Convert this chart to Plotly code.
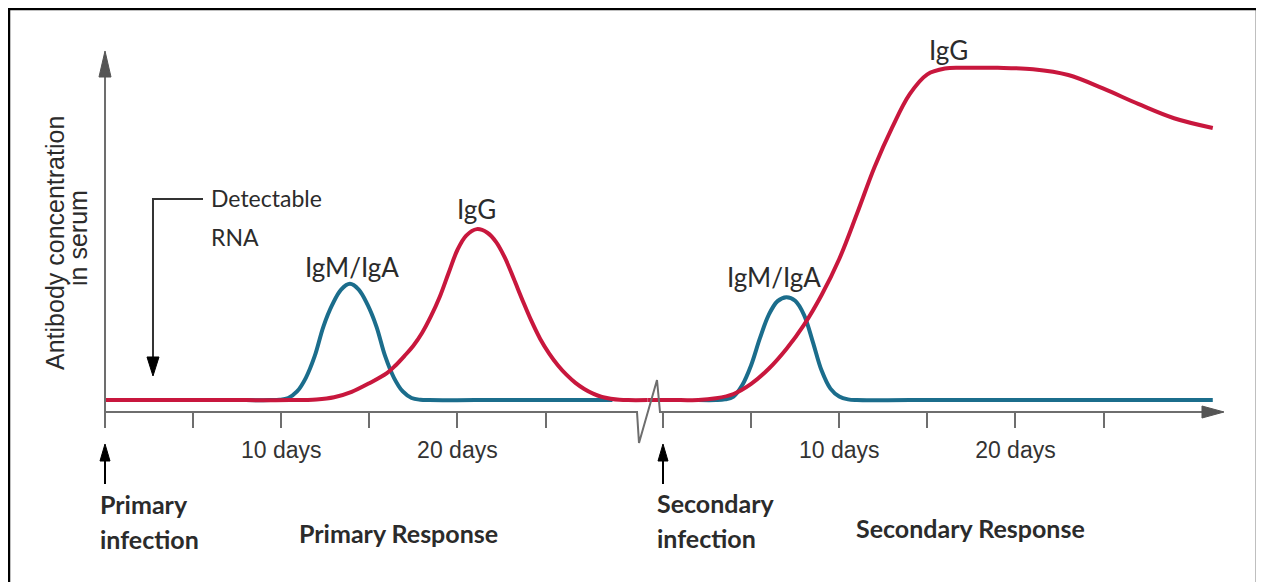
import plotly.graph_objects as go

# The page places the figure 8px from the top-left corner of the window.
OFF = 8
FW, FH = 1252, 574

# ---------------- data ----------------
# x: days after the infection, y: antibody level (arbitrary units, 0-100)
primary_igm_days  = [0, 4.0, 8.0, 9.4, 9.9, 10.4, 10.9, 11.4, 11.9, 12.4, 12.9, 13.4, 13.9, 14.4, 14.9,
                     15.4, 15.9, 16.4, 16.9, 17.4, 17.9, 18.4, 21.0, 25.0, 28.8]
primary_igm_level = [3.3, 3.3, 3.3, 3.3, 3.4, 3.9, 5.7, 9.5, 15.5, 23.8, 29.8, 34.0, 35.6, 34.0, 29.8,
                     23.8, 15.5, 9.5, 5.7, 3.9, 3.4, 3.3, 3.3, 3.3, 3.3]

primary_igg_days  = [0, 4.0, 8.0, 10.5, 12.0, 13.0, 14.0, 15.0, 16.0, 16.5, 17.0, 17.5, 18.0, 18.5, 19.0,
                     19.5, 20.0, 20.5, 21.1, 21.7, 22.2, 22.7, 23.2, 23.7, 24.2, 24.7, 25.2, 25.7, 26.2,
                     26.7, 27.2, 27.7, 28.2, 28.7, 29.2, 29.7, 30.8]
primary_igg_level = [3.3, 3.3, 3.3, 3.3, 3.5, 4.1, 5.6, 8.0, 10.8, 13.0, 15.6, 18.4, 22.0, 26.6, 32.0,
                     38.6, 45.0, 49.0, 50.8, 49.8, 47.2, 42.8, 37.0, 31.0, 25.3, 20.3, 16.3, 13.0, 10.3,
                     8.1, 6.4, 5.1, 4.2, 3.7, 3.4, 3.3, 3.3]

secondary_igm_days  = [2.0, 3.0, 3.5, 4.0, 4.5, 5.0, 5.5, 6.0, 6.5, 7.0, 7.5, 8.0, 8.5, 9.0, 9.5, 10.0,
                       10.5, 11.0, 14.0, 20.0, 26.0, 31.2]
secondary_igm_level = [3.3, 3.3, 3.5, 4.3, 7.5, 13.0, 20.5, 27.0, 30.8, 31.9, 30.9, 27.0, 19.5, 11.5, 6.5, 4.3,
                       3.5, 3.3, 3.3, 3.3, 3.3, 3.3]

secondary_igg_days  = [-0.85, 1.0, 2.0, 3.0, 4.0, 5.0, 6.0, 7.0, 8.0, 9.0, 10.0, 11.0, 12.0, 13.0, 14.0,
                       15.0, 16.0, 17.0, 19.0, 21.0, 23.0, 25.0, 27.0, 29.0, 31.2]
secondary_igg_level = [3.3, 3.3, 3.3, 3.8, 5.0, 7.8, 12.0, 17.5, 24.2, 32.5, 42.5, 55.0, 68.0, 79.0, 88.3,
                       93.8, 95.4, 95.6, 95.6, 95.2, 93.6, 89.8, 85.5, 81.6, 78.9]

tick_days   = [0, 5, 10, 15, 20, 25]
tick_labels = ["", "", "10 days", "", "20 days", ""]

SECONDARY_START = 31.67   # axis position where the secondary infection's day 0 sits
X_MAX = 63.45

RED = "#c8173d"
BLUE = "#1b6d8c"
AXIS = "#6e6e6e"
TXT = "#2b2b2b"
LABEL_FONT = "Lato, 'Open Sans', sans-serif"
TICK_FONT = "'Liberation Sans', Arial, sans-serif"


def xp(x):
    """window pixel x -> paper fraction"""
    return (x - OFF) / FW


def yp(y):
    """window pixel y -> paper fraction"""
    return 1 - (y - OFF) / FH


def px(x, y):
    return f"{xp(x):.5f},{yp(y):.5f}"


fig = go.Figure()


def curve(days, level, color, offset=0.0):
    fig.add_trace(go.Scatter(
        x=[d + offset for d in days], y=level, mode="lines",
        line=dict(color=color, width=4, shape="spline", smoothing=1.0),
        hoverinfo="skip", showlegend=False))


curve(primary_igm_days, primary_igm_level, BLUE)
curve(primary_igg_days, primary_igg_level, RED)
curve(secondary_igm_days, secondary_igm_level, BLUE, SECONDARY_START)
curve(secondary_igg_days, secondary_igg_level, RED, SECONDARY_START)

shapes = []
# frame
shapes.append(dict(type="rect", xref="paper", yref="paper", x0=xp(9), y0=yp(620), x1=xp(1257), y1=yp(9),
                   line=dict(color="black", width=2.5)))
# axis line with break
shapes.append(dict(type="path", xref="paper", yref="paper",
                   path=f"M{px(105,412)} L{px(637,412)} L{px(639,443)} L{px(657,380)} L{px(660,412)} L{px(1208,412)}",
                   line=dict(color=AXIS, width=2)))
# x arrow head
shapes.append(dict(type="path", xref="paper", yref="paper",
                   path=f"M{px(1224,412)} L{px(1202,406)} L{px(1202,418)} Z",
                   fillcolor="#555555", line=dict(color="#555555", width=1)))
# y axis line + head
shapes.append(dict(type="path", xref="paper", yref="paper",
                   path=f"M{px(105,427)} L{px(105,70)}", line=dict(color=AXIS, width=2)))
shapes.append(dict(type="path", xref="paper", yref="paper",
                   path=f"M{px(105,51)} L{px(99,77)} L{px(111,77)} Z",
                   fillcolor="#555555", line=dict(color="#555555", width=1)))
# Detectable RNA bracket
shapes.append(dict(type="path", xref="paper", yref="paper",
                   path=f"M{px(203,199)} L{px(153,199)} L{px(153,362)}", line=dict(color="#333333", width=2)))
shapes.append(dict(type="path", xref="paper", yref="paper",
                   path=f"M{px(153,376)} L{px(147,357)} L{px(159,357)} Z",
                   fillcolor="black", line=dict(color="black", width=1)))
# infection arrows
for ax_ in (105, 663):
    shapes.append(dict(type="path", xref="paper", yref="paper",
                       path=f"M{px(ax_,484)} L{px(ax_,458)}", line=dict(color="black", width=2)))
    shapes.append(dict(type="path", xref="paper", yref="paper",
                       path=f"M{px(ax_,444)} L{px(ax_-5,461)} L{px(ax_+5,461)} Z",
                       fillcolor="black", line=dict(color="black", width=1)))

ann = []


def text(t, x, y, size, bold=False, anchor="center", angle=0, font=LABEL_FONT, color=TXT):
    ann.append(dict(text=f"<b>{t}</b>" if bold else t, x=xp(x), y=yp(y), xref="paper", yref="paper",
                    xanchor=anchor, yanchor="middle", showarrow=False, textangle=angle,
                    font=dict(family=font, size=size, color=color)))


text("Detectable", 209, 198, 23, anchor="left")
text("RNA", 209, 237, 23, anchor="left")
text("IgM/IgA", 352, 267, 26)
text("IgG", 476, 209, 26)
text("IgM/IgA", 774, 277, 26)
text("IgG", 948, 50, 26)
text("Primary", 98, 504, 25, bold=True, anchor="left")
text("infection", 98, 539, 25, bold=True, anchor="left")
text("Primary Response", 398, 533, 25, bold=True)
text("Secondary", 655, 503, 25, bold=True, anchor="left")
text("infection", 655, 538, 25, bold=True, anchor="left")
text("Secondary Response", 970, 528, 25, bold=True)
text("Antibody concentration", 55, 243, 25, angle=-90, font=TICK_FONT)
text("in serum", 78, 238, 25, angle=-90, font=TICK_FONT)

fig.update_layout(
    width=FW, height=FH, margin=dict(l=0, r=0, t=0, b=0),
    paper_bgcolor="white", plot_bgcolor="white", showlegend=False,
    shapes=shapes, annotations=ann,
    xaxis=dict(domain=[xp(105), xp(1223)], range=[0, X_MAX], showgrid=False, zeroline=False, showline=False,
               tickmode="array",
               tickvals=tick_days + [SECONDARY_START + d for d in tick_days],
               ticktext=tick_labels + tick_labels,
               ticks="outside", ticklen=15, tickwidth=2, tickcolor=AXIS,
               ticklabelstandoff=2,
               tickfont=dict(family=TICK_FONT, size=23, color="#333333")),
    yaxis=dict(domain=[yp(412), yp(52)], range=[0, 100], visible=False),
)

fig.write_html("out.html", config={"displayModeBar": False})
